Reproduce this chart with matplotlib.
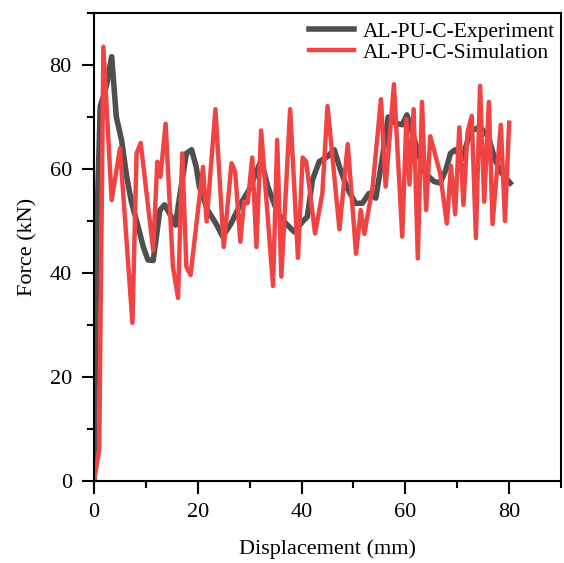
import matplotlib
matplotlib.use("Agg")
import matplotlib.pyplot as plt
from matplotlib.ticker import MultipleLocator

plt.rcParams.update({
    "font.family": "serif", "font.serif": ["Liberation Serif", "DejaVu Serif"],
    "font.size": 16, "xtick.direction": "out", "ytick.direction": "out",
})
EXP_C, SIM_C = "#4f4f4f", "#f04343"

# experiment (displacement mm, force kN)
exp_x = [0.0, 0.6, 1.2, 2.4, 3.4, 4.3, 5.3, 6.3, 7.2, 8.5, 9.5, 10.4, 11.4, 12.7, 13.6,
         14.9, 15.7, 16.5, 17.8, 18.8, 19.7, 20.3, 21.9, 23.5, 24.8, 26.4, 28.3, 29.9,
         31.2, 32.2, 33.5, 35.4, 37.0, 38.6, 40.2, 41.1, 42.1, 43.4, 45.0, 46.3, 47.5,
         48.8, 50.4, 51.7, 53.0, 54.3, 55.5, 56.7, 58.1, 59.4, 60.3, 61.2, 62.3, 63.8,
         65.5, 66.7, 67.8, 68.7, 69.6, 71.0, 72.5, 74.4, 76.0, 77.3, 78.6, 80.2]
exp_y = [0.0, 50.8, 72.0, 76.0, 81.6, 70.0, 65.6, 58.5, 53.7, 48.9, 45.0, 42.5, 42.4,
         52.1, 53.1, 50.8, 49.2, 54.7, 63.0, 63.7, 60.4, 56.6, 52.1, 49.5, 47.0, 49.5,
         53.4, 56.0, 59.2, 61.7, 56.6, 51.5, 49.5, 47.9, 49.9, 50.8, 57.9, 61.4, 62.4,
         63.7, 59.8, 56.3, 53.4, 53.4, 55.3, 54.4, 61.7, 70.0, 68.8, 68.5, 70.4, 67.5,
         63.7, 59.2, 57.6, 57.3, 59.8, 63.0, 63.7, 62.0, 67.2, 68.1, 66.2, 61.7, 59.2,
         57.3]

# simulation
sim_x = [0.0, 1.0, 1.8, 3.4, 5.0, 7.4, 8.2, 9.0, 11.4, 12.2, 12.8, 13.8, 15.2, 16.2,
         17.0, 17.8, 18.6, 21.0, 21.7, 23.4, 25.0, 26.5, 27.2, 28.2, 28.9, 29.6, 30.5,
         31.3, 32.2, 34.5, 35.3, 36.1, 37.8, 39.3, 40.2, 40.9, 42.6, 44.0, 45.0, 47.3,
         48.9, 50.5, 51.4, 52.1, 53.7, 55.3, 56.2, 57.8, 59.4, 60.2, 60.8, 61.6, 62.4,
         63.2, 64.0, 64.8, 66.7, 68.0, 68.8, 69.6, 70.4, 71.2, 72.0, 72.8, 73.6, 74.4,
         75.2, 76.1, 76.8, 78.4, 79.2, 80.0]
sim_y = [0.0, 6.0, 83.5, 54.0, 64.0, 30.4, 63.0, 65.0, 44.4, 61.4, 58.5, 68.7, 41.2,
         35.2, 63.0, 41.2, 39.6, 60.4, 49.9, 71.5, 45.0, 61.1, 59.5, 46.0, 53.7, 53.4,
         62.2, 45.0, 67.4, 37.5, 65.6, 39.3, 71.5, 42.9, 62.2, 61.4, 47.6, 55.3, 72.1,
         48.4, 64.8, 43.7, 52.1, 47.5, 56.6, 73.4, 56.6, 76.3, 47.0, 69.6, 57.0, 71.5,
         42.8, 72.9, 52.1, 66.3, 59.2, 49.5, 60.6, 51.3, 68.0, 53.1, 67.2, 70.2, 46.7,
         76.0, 53.7, 72.9, 49.4, 68.5, 50.0, 68.9]

fig = plt.figure(figsize=(5.64, 5.63), dpi=100)
ax = fig.add_axes([0.1667, 0.1456, 0.828, 0.8314])
ax.plot(exp_x, exp_y, color=EXP_C, lw=4.0, label="AL-PU-C-Experiment")
ax.plot(sim_x, sim_y, color=SIM_C, lw=3.2, label="AL-PU-C-Simulation")

ax.set_xlim(0, 90); ax.set_ylim(0, 90)
ax.xaxis.set_major_locator(MultipleLocator(20)); ax.xaxis.set_minor_locator(MultipleLocator(10))
ax.yaxis.set_major_locator(MultipleLocator(20)); ax.yaxis.set_minor_locator(MultipleLocator(10))
ax.tick_params(which="major", length=9, width=1.5, labelsize=16, pad=7)
ax.tick_params(which="minor", length=5, width=1.5)
for s in ax.spines.values():
    s.set_linewidth(1.5)
ax.set_xlabel("Displacement (mm)", fontsize=16, labelpad=12)
ax.set_ylabel("Force (kN)", fontsize=16, labelpad=9)
ax.legend(loc="upper right", bbox_to_anchor=(1.005, 1.0), frameon=False, fontsize=15.5,
          handlelength=2.1, borderaxespad=0.0, handletextpad=0.4, labelspacing=0.05)
fig.savefig("out.png", dpi=100)
